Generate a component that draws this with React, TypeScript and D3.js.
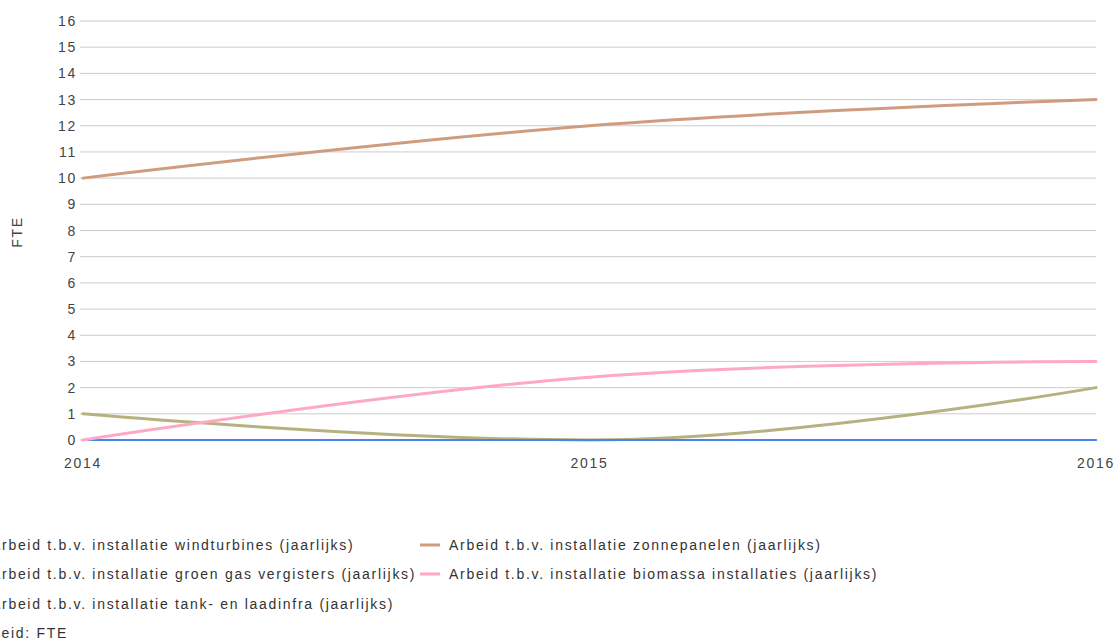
import React from "react";
import * as d3 from "d3";

const years = [2014, 2015, 2016];
const yTicks = d3.range(0, 17);

const seriesNames = [
  "Arbeid t.b.v. installatie windturbines (jaarlijks)",
  "Arbeid t.b.v. installatie groen gas vergisters (jaarlijks)",
  "Arbeid t.b.v. installatie tank- en laadinfra (jaarlijks)",
  "Arbeid t.b.v. installatie zonnepanelen (jaarlijks)",
  "Arbeid t.b.v. installatie biomassa installaties (jaarlijks)",
];
const windturbines = [0, 0, 0];
const groenGas = [1, 0, 2];
const tankLaadinfra = [0, 0, 0];
const zonnepanelen = [10, 12, 13];
const biomassa = [0, 2.4, 3];
const seriesColors = ["#4a86e8", "#b5b27f", "#4a86e8", "#d09c7f", "#ffa8c5"];
const unitLabel = "Eenheid: FTE";
const yLabel = "FTE";

// Highcharts-style spline path through points
function splinePath(pts: [number, number][]): string {
  const smoothing = 1.5;
  const denom = smoothing + 1;
  const conts = pts.map((p, i) => {
    const prev = pts[i - 1];
    const next = pts[i + 1];
    if (!prev || !next) return null;
    const [px, py] = p;
    let lcx = (smoothing * px + prev[0]) / denom;
    let lcy = (smoothing * py + prev[1]) / denom;
    let rcx = (smoothing * px + next[0]) / denom;
    let rcy = (smoothing * py + next[1]) / denom;
    if (rcx !== lcx) {
      const corr = ((rcy - lcy) * (rcx - px)) / (rcx - lcx) + py - rcy;
      lcy += corr;
      rcy += corr;
    }
    if (lcy > prev[1] && lcy > py) {
      lcy = Math.max(prev[1], py);
      rcy = 2 * py - lcy;
    } else if (lcy < prev[1] && lcy < py) {
      lcy = Math.min(prev[1], py);
      rcy = 2 * py - lcy;
    }
    if (rcy > next[1] && rcy > py) {
      rcy = Math.max(next[1], py);
      lcy = 2 * py - rcy;
    } else if (rcy < next[1] && rcy < py) {
      rcy = Math.min(next[1], py);
      lcy = 2 * py - rcy;
    }
    return { lcx, lcy, rcx, rcy };
  });
  const path = d3.path();
  pts.forEach((p, i) => {
    if (i === 0) {
      path.moveTo(p[0], p[1]);
      return;
    }
    const last = pts[i - 1];
    const lc = conts[i - 1];
    const c = conts[i];
    path.bezierCurveTo(
      lc ? lc.rcx : last[0],
      lc ? lc.rcy : last[1],
      c ? c.lcx : p[0],
      c ? c.lcy : p[1],
      p[0],
      p[1]
    );
  });
  return path.toString();
}

export default function App() {
  const W = 1117, H = 642;
  const x = d3.scaleLinear().domain([2014, 2016]).range([83, 1096]);
  const y = d3.scaleLinear().domain([0, 16]).range([440, 21]);
  const data = [windturbines, groenGas, tankLaadinfra, zonnepanelen, biomassa];
  const drawOrder = [1, 2, 0, 3, 4];
  const font = "'Liberation Sans', Arial, sans-serif";
  const ls = 1.7;
  const legendPos = [
    { x: -38, y: 545 },
    { x: -38, y: 574 },
    { x: -38, y: 604 },
    { x: 420, y: 545 },
    { x: 420, y: 574 },
  ];
  return (
    <svg
      width={W}
      height={H}
      style={{ position: "absolute", left: 0, top: 0, background: "#fff" }}
      fontFamily={font}
    >
      {yTicks.map((t) => (
        <g key={t}>
          <line x1={80} x2={1096} y1={y(t)} y2={y(t)} stroke="#cccccc" strokeWidth={1} />
          <text
            x={77}
            y={y(t)}
            dy="0.36em"
            textAnchor="end"
            fontSize={14}
            letterSpacing={ls}
            fill="#444"
          >
            {t}
          </text>
        </g>
      ))}
      <text
        transform={`translate(22,${232}) rotate(-90)`}
        textAnchor="middle"
        fontSize={14}
        letterSpacing={ls}
        fill="#444"
      >
        {yLabel}
      </text>
      {years.map((yr) => (
        <text
          key={yr}
          x={x(yr)}
          y={468}
          textAnchor="middle"
          fontSize={14}
          letterSpacing={ls}
          fill="#444"
        >
          {yr}
        </text>
      ))}
      {drawOrder.map((i) => (
        <path
          key={i}
          d={splinePath(data[i].map((v, j) => [x(years[j]), y(v)] as [number, number]))}
          fill="none"
          stroke={seriesColors[i]}
          strokeWidth={i === 0 || i === 2 ? 2 : 3}
          strokeLinecap="round"
          strokeLinejoin="round"
        />
      ))}
      {seriesNames.map((n, i) => (
        <g key={n}>
          <line
            x1={legendPos[i].x}
            x2={legendPos[i].x + 20}
            y1={legendPos[i].y}
            y2={legendPos[i].y}
            stroke={seriesColors[i]}
            strokeWidth={3}
          />
          <text
            x={legendPos[i].x + 29}
            y={legendPos[i].y}
            dy="0.36em"
            fontSize={14}
            letterSpacing={ls}
            fill="#333"
          >
            {n}
          </text>
        </g>
      ))}
      <text x={-38} y={633} dy="0.36em" fontSize={14} letterSpacing={ls} fill="#333">
        {unitLabel}
      </text>
    </svg>
  );
}
